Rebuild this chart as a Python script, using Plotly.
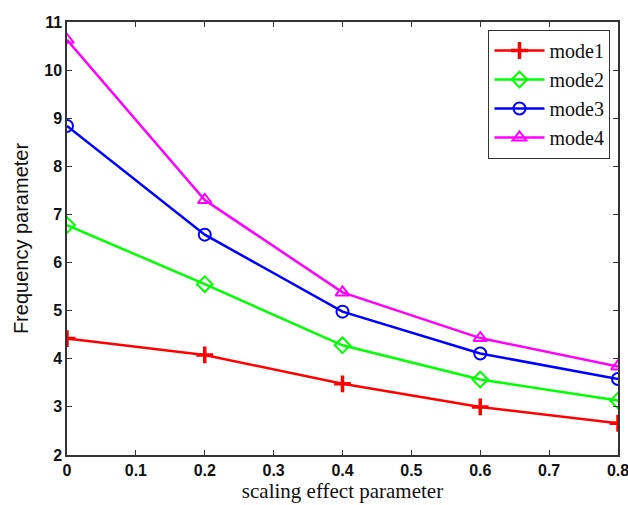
import plotly.graph_objects as go

x_vals = [0, 0.2, 0.4, 0.6, 0.8]
mode1 = [4.42, 4.08, 3.48, 3.00, 2.66]
mode2 = [6.78, 5.55, 4.28, 3.57, 3.13]
mode3 = [8.84, 6.58, 4.98, 4.11, 3.58]
mode4 = [10.63, 7.30, 5.38, 4.43, 3.84]
names = ["mode1", "mode2", "mode3", "mode4"]
x_ticks = [0, 0.1, 0.2, 0.3, 0.4, 0.5, 0.6, 0.7, 0.8]
x_ticktext = ["0", "0.1", "0.2", "0.3", "0.4", "0.5", "0.6", "0.7", "0.8"]
colors = ["#ff0000", "#00ff00", "#0000ff", "#ff00ff"]
symbols = ["cross-thin-open", "diamond-open", "circle-open", "triangle-up-open"]

fig = go.Figure()
for ys, n, c, s in zip([mode1, mode2, mode3, mode4], names, colors, symbols):
    fig.add_trace(go.Scatter(
        x=x_vals, y=ys, name=n, mode="lines+markers",
        line=dict(color=c, width=2.5),
        marker=dict(symbol=s, size=12, color=c,
                    line=dict(color=c, width=2 if s != "cross-thin-open" else 3.5)),
    ))

axis_common = dict(
    showline=True, mirror="ticks", linecolor="#333333", linewidth=1.5,
    ticks="inside", ticklen=5, tickcolor="#333333", tickwidth=1.2,
    showgrid=False, zeroline=False, automargin=False,
    ticklabeloverflow="allow",
    tickfont=dict(family="Liberation Sans, Arial", size=16, color="#111111", weight="bold"),
)
fig.update_xaxes(range=[0, 0.8], tickvals=x_ticks, ticktext=x_ticktext,
                 title=dict(text="scaling effect parameter", standoff=2,
                            font=dict(family="Liberation Serif, Times New Roman", size=21, color="#111111")),
                 **axis_common)
fig.update_yaxes(range=[2, 11], dtick=1,
                 title=dict(text="Frequency parameter", standoff=10,
                            font=dict(family="Liberation Sans, Arial", size=20, color="#111111")),
                 **axis_common)

fig.update_layout(
    width=628, height=505,
    margin=dict(l=67, r=10, t=22, b=50),
    plot_bgcolor="white", paper_bgcolor="white",
    legend=dict(x=0.986, y=0.982, xanchor="right", yanchor="top",
                bordercolor="#333333", borderwidth=1.2, bgcolor="white",
                font=dict(family="Liberation Serif, Times New Roman", size=20, color="#111111"),
                tracegroupgap=0, itemwidth=50),
    showlegend=True,
)

fig.write_html("out.html", config={"displayModeBar": False},
               post_script="document.body.style.margin='0';")
